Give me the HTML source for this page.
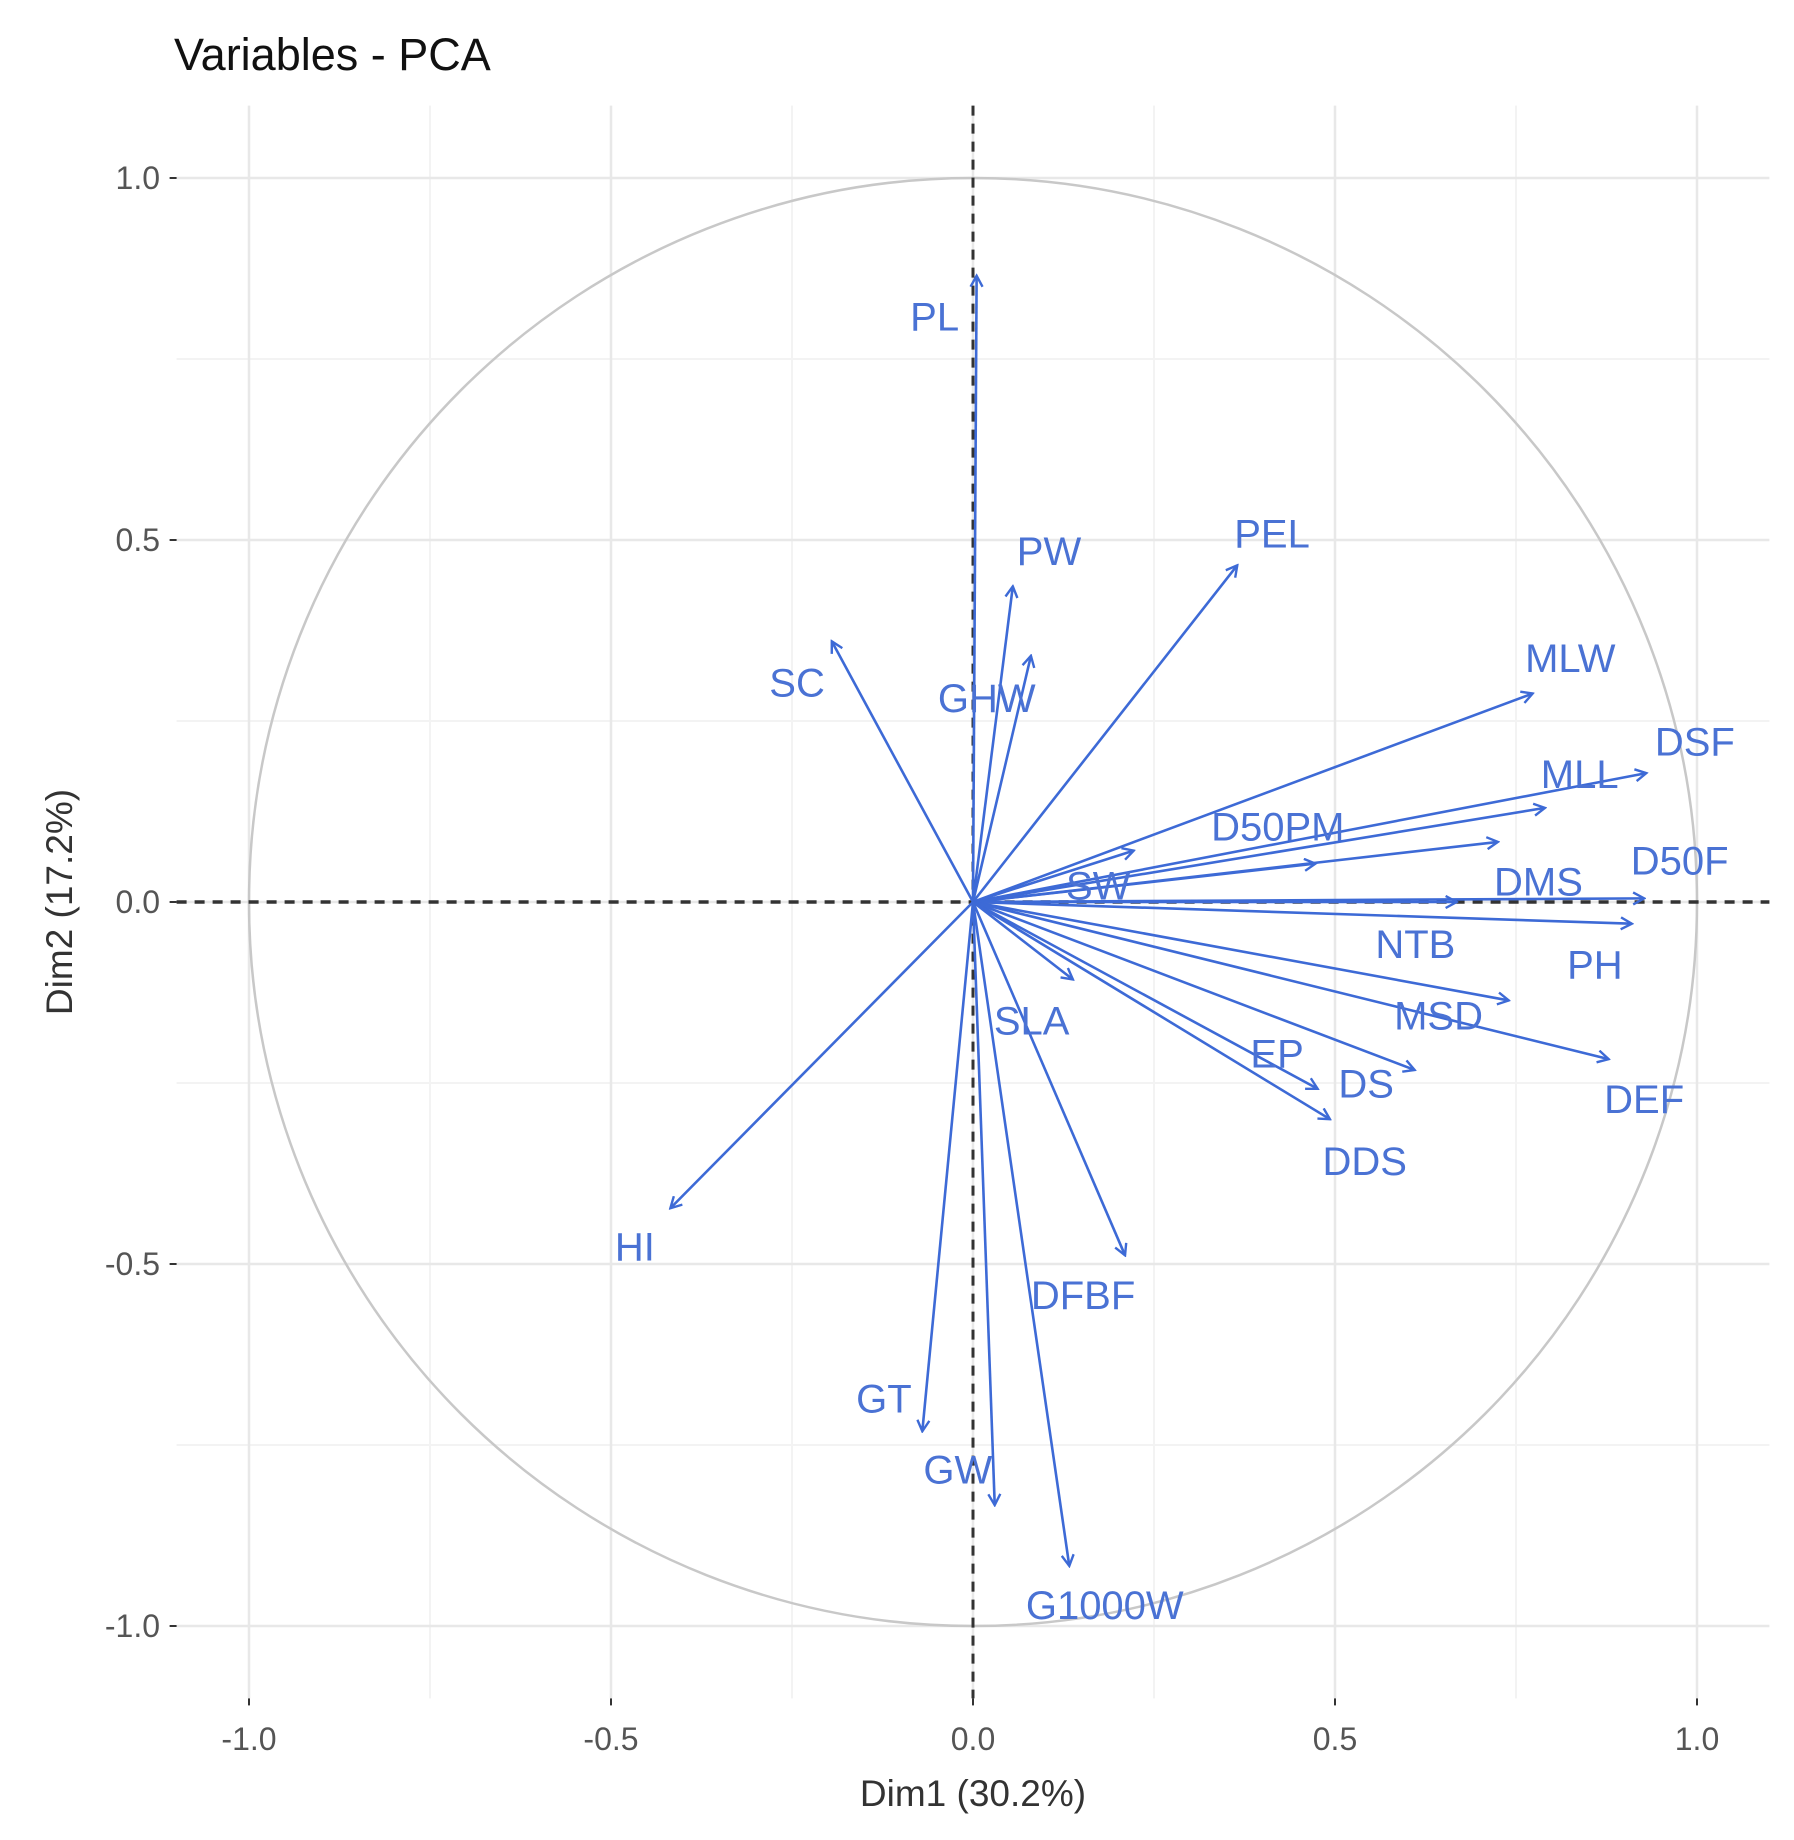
<!DOCTYPE html>
<html><head><meta charset="utf-8"><style>
body{margin:0;background:#fff}
svg{display:block}
</style></head><body>
<svg id="chart" width="1794" height="1840" viewBox="0 0 1794 1840" xmlns="http://www.w3.org/2000/svg">
<defs><marker id="ah" markerWidth="14" markerHeight="14" refX="12" refY="7" orient="auto" markerUnits="userSpaceOnUse"><path d="M1,1 L12,7 L1,13" fill="none" stroke="#3d6ad6" stroke-width="2.4"/></marker></defs>
<text x="174" y="70" font-family="Liberation Sans, sans-serif" font-size="45" fill="#111">Variables - PCA</text>
<g id="grid"></g><g id="arrows"></g><g id="labels"></g><g id="axes"></g>
</svg>
<script>
const varNames=["PL","PW","GHW","PEL","SC","MLW","DSF","MLL","D50PM","SW","DMS","D50F","NTB","PH","MSD","DEF","DS","EP","DDS","SLA","DFBF","HI","GT","GW","G1000W"];
const dim1=[0.005,0.055,0.08,0.365,-0.195,0.773,0.93,0.79,0.473,0.222,0.725,0.927,0.668,0.91,0.74,0.878,0.61,0.476,0.493,0.138,0.21,-0.418,-0.07,0.03,0.133];
const dim2=[0.865,0.436,0.34,0.465,0.36,0.288,0.178,0.13,0.053,0.071,0.083,0.005,0,-0.03,-0.136,-0.217,-0.232,-0.258,-0.30,-0.107,-0.488,-0.423,-0.731,-0.833,-0.917];
const labelX=[-0.053,0.105,0.019,0.413,-0.243,0.825,0.997,0.838,0.421,0.173,0.781,0.976,0.611,0.859,0.643,0.927,0.543,0.420,0.541,0.081,0.152,-0.467,-0.123,-0.021,0.182];
const labelY=[0.809,0.485,0.282,0.509,0.303,0.337,0.222,0.177,0.104,0.023,0.028,0.057,-0.058,-0.086,-0.157,-0.272,-0.251,-0.209,-0.358,-0.164,-0.543,-0.476,-0.686,-0.784,-0.971];
const tickValues=[-1.0,-0.5,0.0,0.5,1.0];
const tickLabels=["-1.0","-0.5","0.0","0.5","1.0"];
const minorValues=[-0.75,-0.25,0.25,0.75];
const X0=973,Y0=902,S=724;
const sx=v=>X0+v*S, sy=v=>Y0-v*S;
const NS="http://www.w3.org/2000/svg";
function mk(tag,attrs,parent){const e=document.createElementNS(NS,tag);for(const k in attrs)e.setAttribute(k,attrs[k]);parent.appendChild(e);return e;}
const grid=document.getElementById('grid'),arrows=document.getElementById('arrows'),labels=document.getElementById('labels'),axes=document.getElementById('axes');
const L=sx(-1.1),R=sx(1.1),T=sy(1.1),B=sy(-1.1);
minorValues.forEach(v=>{
 const a=mk('line',{x1:sx(v),x2:sx(v),y1:T,y2:B,stroke:'#f3f3f3','stroke-width':2},grid);
 
 
 const b=mk('line',{x1:L,x2:R,y1:sy(v),y2:sy(v),stroke:'#f3f3f3','stroke-width':2},grid);
 
 
});
tickValues.forEach((v,i)=>{
 const a=mk('line',{x1:sx(v),x2:sx(v),y1:T,y2:B,stroke:'#e8e8e8','stroke-width':2.5},grid);
 
 
 const b=mk('line',{x1:L,x2:R,y1:sy(v),y2:sy(v),stroke:'#e8e8e8','stroke-width':2.5},grid);
 
 
 const tx=mk('text',{x:sx(v),y:1750,'text-anchor':'middle','font-family':'Liberation Sans, sans-serif','font-size':32,fill:'#555'},axes);
 tx.textContent=tickLabels[i];
 
 
 const ty=mk('text',{x:160,y:sy(v)+11,'text-anchor':'end','font-family':'Liberation Sans, sans-serif','font-size':32,fill:'#555'},axes);
 ty.textContent=tickLabels[i];
 
 
 const mx=mk('line',{x1:sx(v),x2:sx(v),y1:B,y2:B+7,stroke:'#333','stroke-width':2},axes);
 
 
 const my=mk('line',{x1:L-7,x2:L,y1:sy(v),y2:sy(v),stroke:'#333','stroke-width':2},axes);
 
 
});
const circ=mk('circle',{cx:sx(0),cy:sy(0),r:S,fill:'none',stroke:'#c8c8c8','stroke-width':2.5},grid);


const hz=mk('line',{x1:L,x2:R,y1:sy(0),y2:sy(0),stroke:'#333','stroke-width':3.5,'stroke-dasharray':'10,8'},grid);


const vt=mk('line',{x1:sx(0),x2:sx(0),y1:T,y2:B,stroke:'#333','stroke-width':3,'stroke-dasharray':'10,8'},grid);


varNames.forEach((n,i)=>{
 const a=mk('line',{x1:sx(0),y1:sy(0),x2:sx(dim1[i]),y2:sy(dim2[i]),stroke:'#3d6ad6','stroke-width':2.6,'marker-end':'url(#ah)'},arrows);
 
 
 const t=mk('text',{x:sx(labelX[i]),y:sy(labelY[i])+14,'text-anchor':'middle','font-family':'Liberation Sans, sans-serif','font-size':40,fill:'#4a72d4'},labels);
 t.textContent=n;
 
 
});
const xt=mk('text',{x:sx(0),y:1806,'text-anchor':'middle','font-family':'Liberation Sans, sans-serif','font-size':37,fill:'#333'},axes);
xt.textContent='Dim1 (30.2%)';


const yt=mk('text',{x:0,y:0,'text-anchor':'middle','font-family':'Liberation Sans, sans-serif','font-size':37,fill:'#333',transform:'translate(72,'+sy(0)+') rotate(-90)'},axes);
yt.textContent='Dim2 (17.2%)';


</script>
</body></html>
